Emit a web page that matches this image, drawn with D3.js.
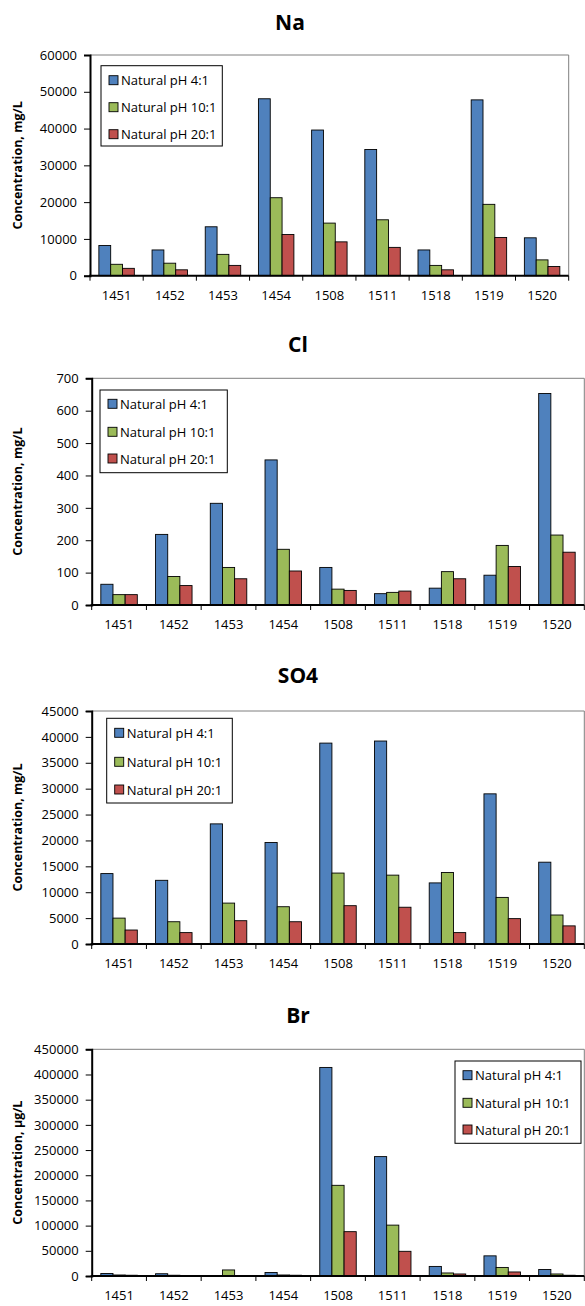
<!DOCTYPE html>
<html><head><meta charset="utf-8">
<script src="https://cdn.jsdelivr.net/npm/d3@7"></script>
<style>
html,body{margin:0;padding:0;background:#fff;}
svg{display:block;}
text{font-family:"Open Sans",sans-serif;fill:#000;}
</style></head>
<body>
<svg id="chart" width="585" height="1306"></svg>
<script>
const categories = ["1451","1452","1453","1454","1508","1511","1518","1519","1520"];
const seriesNames = ["Natural pH 4:1","Natural pH 10:1","Natural pH 20:1"];
const seriesColors = ["#4F81BD","#9BBB59","#C0504D"];

const naPH4  = [8200, 7000, 13300, 48100, 39600, 34300, 7000, 47800, 10300];
const naPH10 = [3100, 3400, 5800, 21200, 14300, 15200, 2800, 19400, 4300];
const naPH20 = [2000, 1600, 2800, 11200, 9200, 7700, 1600, 10400, 2500];

const clPH4  = [64, 218, 314, 448, 116, 35, 52, 92, 653];
const clPH10 = [32, 88, 116, 172, 49, 39, 103, 184, 216];
const clPH20 = [32, 60, 81, 105, 45, 43, 81, 119, 163];

const so4PH4  = [13600, 12300, 23200, 19600, 38800, 39200, 11800, 29000, 15800];
const so4PH10 = [5000, 4300, 7900, 7200, 13700, 13300, 13800, 9000, 5600];
const so4PH20 = [2700, 2200, 4500, 4300, 7400, 7100, 2200, 4900, 3500];

const brPH4  = [5000, 4500, 1000, 7000, 414000, 237000, 19000, 40000, 13000];
const brPH10 = [2000, 1500, 12000, 2000, 180000, 101000, 6000, 17000, 4000];
const brPH20 = [1500, 1000, 1000, 1500, 88000, 49000, 4000, 8000, 1500];

const naTicks  = [0,10000,20000,30000,40000,50000,60000];
const clTicks  = [0,100,200,300,400,500,600,700];
const so4Ticks = [0,5000,10000,15000,20000,25000,30000,35000,40000,45000];
const brTicks  = [0,50000,100000,150000,200000,250000,300000,350000,400000,450000];

const panels = [
  {title:"Na", titleX:290, titleY:30, yTitle:"Concentration, mg/L", series:[naPH4,naPH10,naPH20], ticks:naTicks,
   box:{l:90, r:568.7, t:55, b:275.7}, legend:{x:101, y:65.7, w:121.3, h:80.3, rows:[80.7,107.7,134.7]}},
  {title:"Cl", titleX:298, titleY:351.7, yTitle:"Concentration, mg/L", series:[clPH4,clPH10,clPH20], ticks:clTicks,
   box:{l:91.7, r:584.3, t:378.3, b:605}, legend:{x:100, y:390, w:127.3, h:82.7, rows:[404.3,432.3,459]}},
  {title:"SO4", titleX:298, titleY:683, yTitle:"Concentration, mg/L", series:[so4PH4,so4PH10,so4PH20], ticks:so4Ticks,
   box:{l:91.7, r:584.3, t:711, b:944}, legend:{x:106.7, y:718.3, w:125.6, h:84.7, rows:[733.3,762.3,790]}},
  {title:"Br", titleX:298, titleY:1023, yTitle:"Concentration, µg/L", series:[brPH4,brPH10,brPH20], ticks:brTicks,
   box:{l:91.7, r:584.3, t:1049.3, b:1276}, legend:{x:455, y:1061, w:126, h:82.3, rows:[1075.7,1103.3,1130]}}
];

const svg = d3.select("#chart");

panels.forEach(p => {
  const g = svg.append("g");
  const B = p.box;
  const x0 = d3.scaleBand().domain(categories).range([B.l, B.r]).padding(0);
  const bw = x0.bandwidth();
  const x1 = d3.scaleBand().domain(d3.range(seriesNames.length)).range([bw/6, bw*5/6]).padding(0);
  const y = d3.scaleLinear().domain([0, p.ticks[p.ticks.length-1]]).range([B.b, B.t]);

  // title
  g.append("text").attr("x", p.titleX).attr("y", p.titleY).attr("text-anchor","middle")
    .style("font-size","21px").style("font-weight","bold").text(p.title);

  // frame top/right
  g.append("path").attr("d", `M${B.l},${B.t}H${B.r}V${B.b}`).attr("fill","none")
    .attr("stroke","#7f7f7f").attr("stroke-width",1);

  // bars
  p.series.forEach((vals, si) => {
    g.append("g").selectAll("rect").data(vals).join("rect")
      .attr("x", (d,i) => x0(categories[i]) + x1(si))
      .attr("width", x1.bandwidth())
      .attr("y", d => y(d))
      .attr("height", d => y(0) - y(d))
      .attr("fill", seriesColors[si])
      .attr("stroke", "#000").attr("stroke-width", 0.9);
  });

  // y axis
  const yAxis = d3.axisLeft(y).tickValues(p.ticks).tickSize(6).tickPadding(7).tickFormat(d3.format("d"));
  const ya = g.append("g").attr("transform", `translate(${B.l},0)`).call(yAxis);
  ya.select(".domain").attr("stroke","#000").attr("stroke-width",2);
  ya.selectAll(".tick line").attr("stroke","#000").attr("stroke-width",1);
  ya.selectAll(".tick text").style("font-size","13px").style("font-family","'Open Sans',sans-serif").attr("fill","#000");

  // x axis: ticks at band boundaries
  const xa = g.append("g").attr("transform", `translate(0,${B.b})`);
  xa.append("line").attr("x1", B.l-1).attr("x2", B.r).attr("stroke","#000").attr("stroke-width",2);
  const bounds = categories.map(c => x0(c)).concat([B.r]);
  xa.selectAll("line.t").data(bounds).join("line").attr("class","t")
    .attr("x1", d=>d).attr("x2", d=>d).attr("y1",0).attr("y2",5).attr("stroke","#000").attr("stroke-width",1);
  xa.selectAll("text").data(categories).join("text")
    .attr("x", d => x0(d) + bw/2).attr("y", 24).attr("text-anchor","middle")
    .style("font-size","13px").text(d=>d);

  // y title
  g.append("text").attr("transform", `translate(18,${(B.t+B.b)/2}) rotate(-90)`)
    .attr("text-anchor","middle").attr("dy","0.35em")
    .style("font-size","12.5px").style("font-weight","bold").text(p.yTitle);

  // legend
  const L = p.legend;
  const lg = g.append("g");
  lg.append("rect").attr("x", L.x).attr("y", L.y).attr("width", L.w).attr("height", L.h)
    .attr("fill","#fff").attr("stroke","#000").attr("stroke-width",1);
  seriesNames.forEach((s, i) => {
    lg.append("rect").attr("x", L.x+8).attr("y", L.rows[i]-5).attr("width",9).attr("height",9)
      .attr("fill", seriesColors[i]).attr("stroke","#000").attr("stroke-width",0.9);
    lg.append("text").attr("x", L.x+20).attr("y", L.rows[i]).attr("dy","0.35em")
      .style("font-size","13px").text(s);
  });
});
</script>
</body></html>
